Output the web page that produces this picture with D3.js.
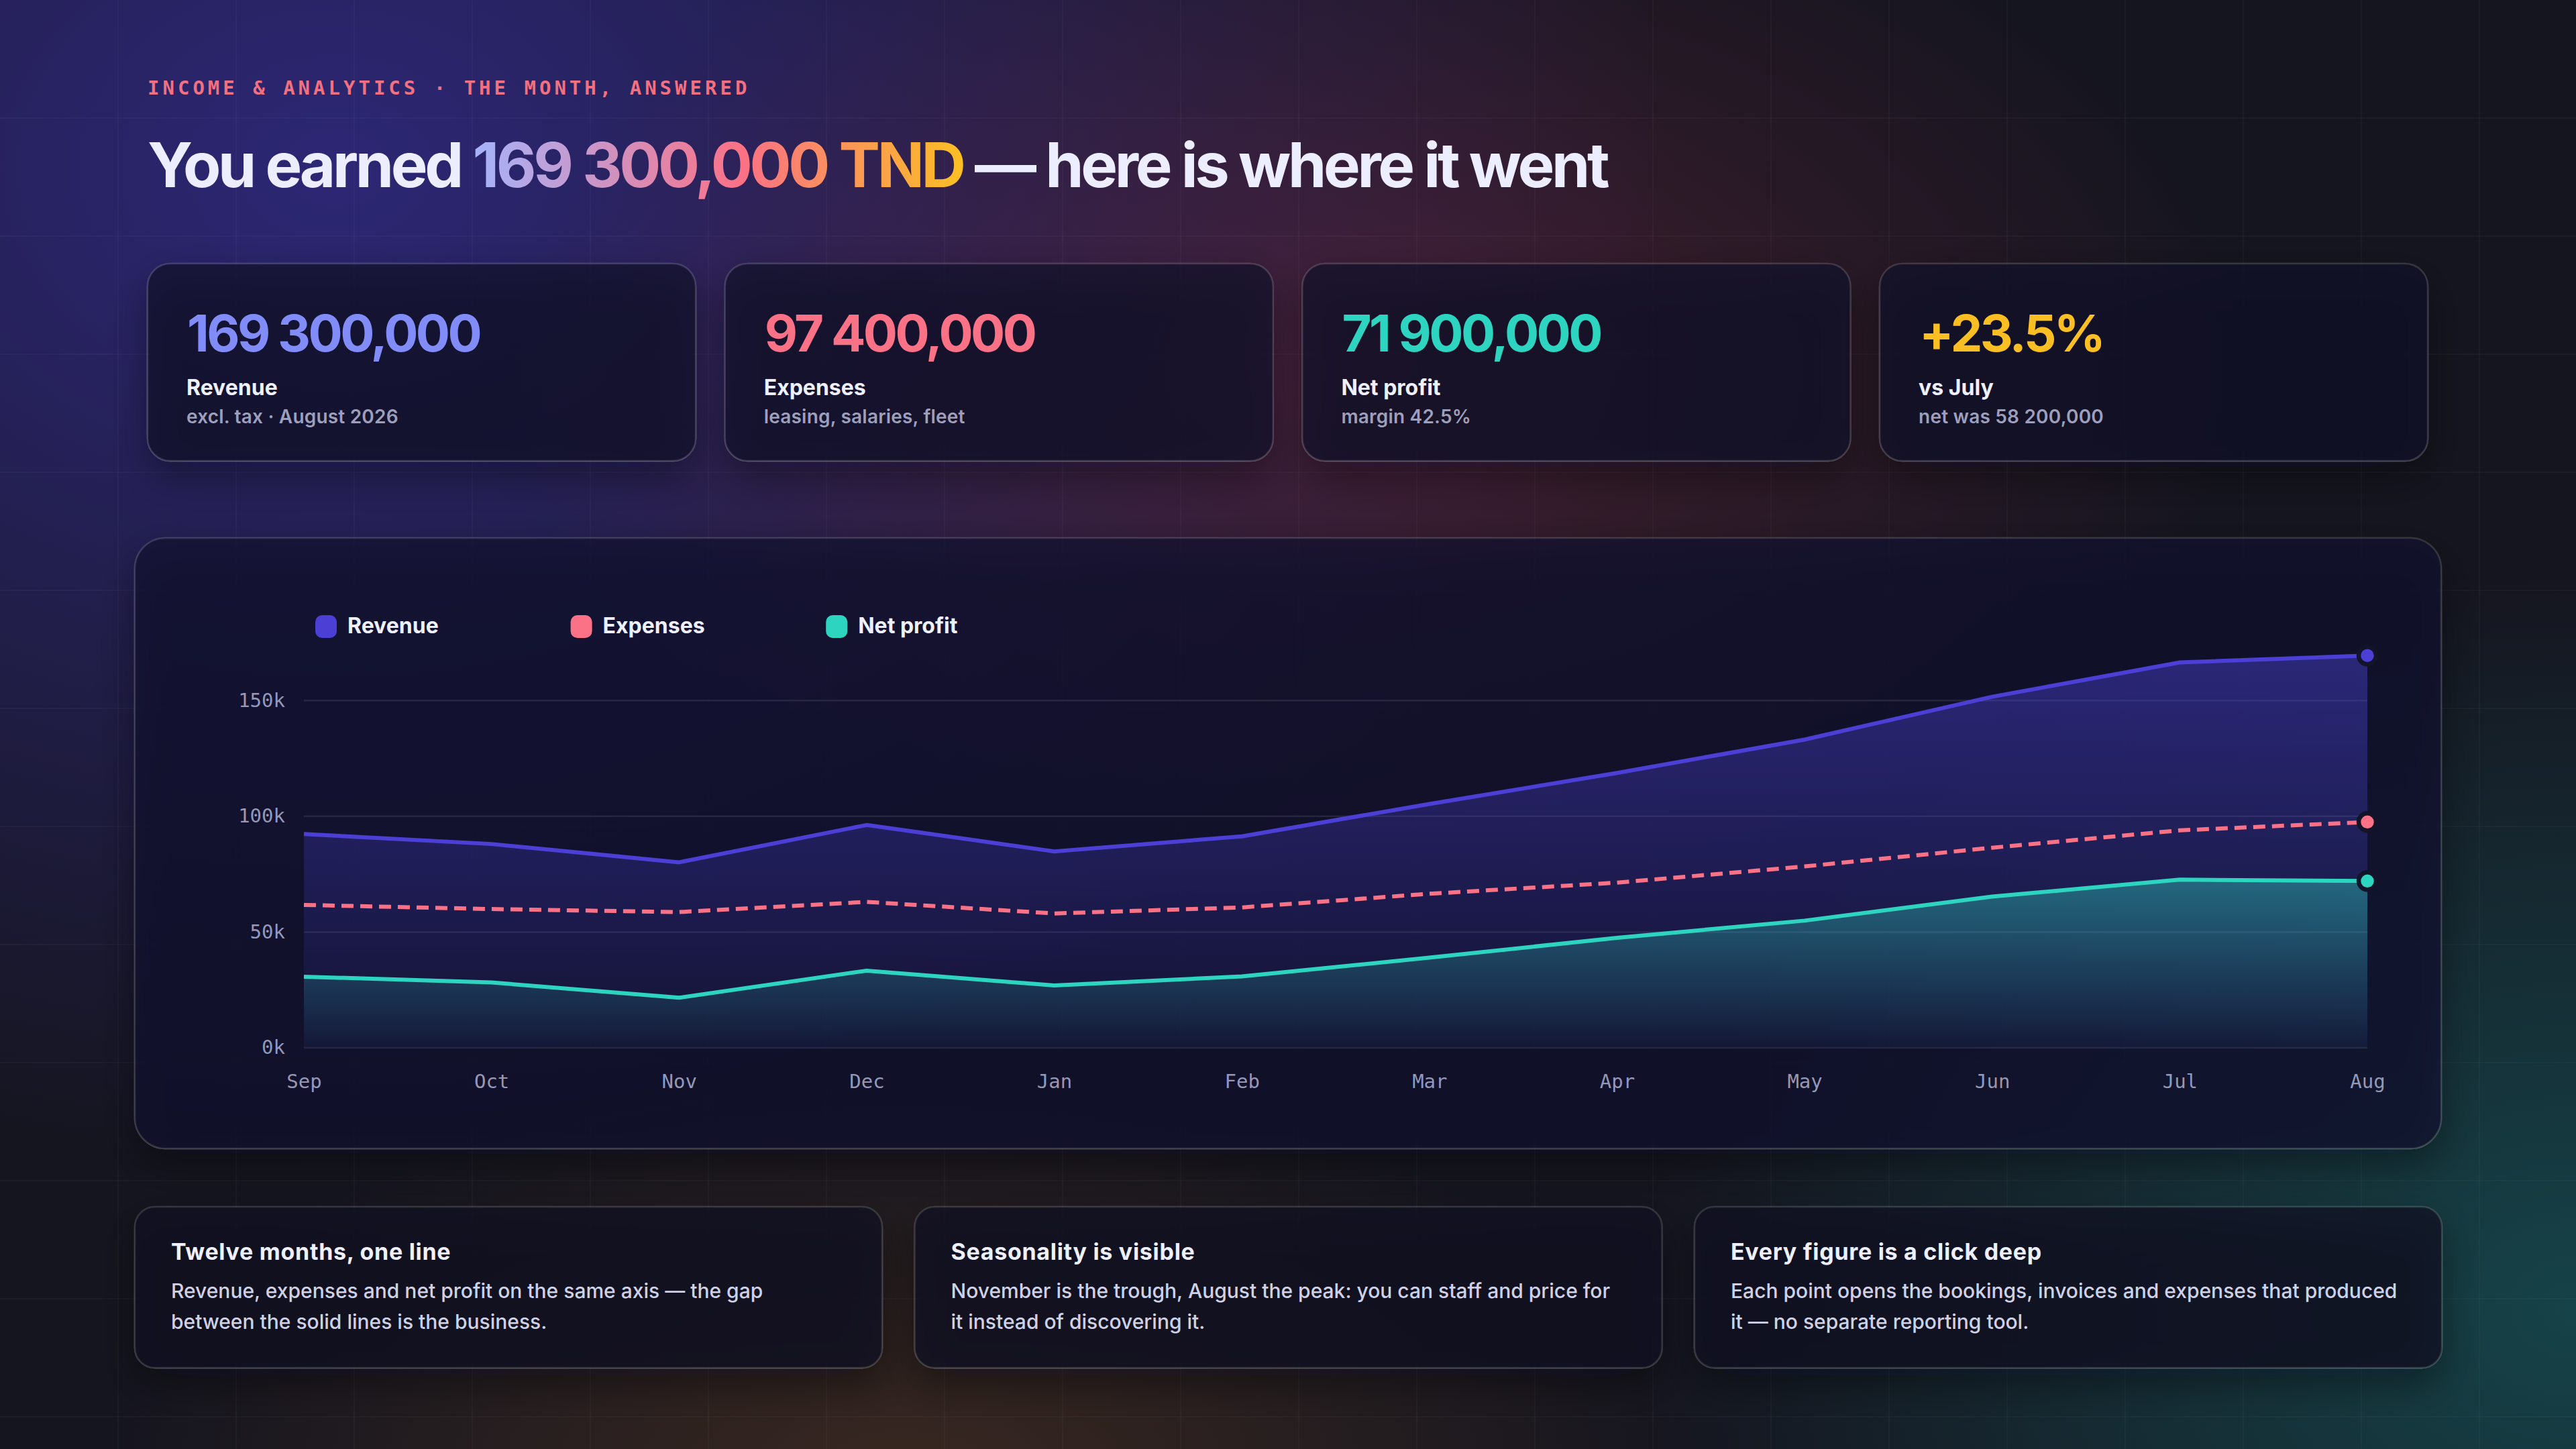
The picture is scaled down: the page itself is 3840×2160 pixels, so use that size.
<!DOCTYPE html>
<html>
<head>
<meta charset="utf-8">
<script src="https://cdn.jsdelivr.net/npm/d3@7"></script>
<style>
  html, body { margin: 0; padding: 0; background: #14141f; }
  svg { display: block; }
</style>
</head>
<body>
<svg id="c" width="3840" height="2160"></svg>
<script>
// ---------- DATA ----------
const months = ["Sep","Oct","Nov","Dec","Jan","Feb","Mar","Apr","May","Jun","Jul","Aug"];
// values in thousands of TND
const revenue   = [92.2, 87.9, 80.0, 96.1, 84.7, 91.2, 105.2, 118.6, 133.0, 151.5, 166.3, 169.3];
const expenses  = [61.6, 59.8, 58.5, 62.9, 57.9, 60.5, 66.4, 71.2, 78.2, 86.3, 93.8, 97.4];
const netProfit = [30.6, 28.1, 21.5, 33.2, 26.8, 30.7, 38.8, 47.4, 54.8, 65.2, 72.5, 71.9];
const yTicks = [0, 50, 100, 150];
const yTickLabels = ["0k", "50k", "100k", "150k"];

const seriesNames = ["Revenue", "Expenses", "Net profit"];
const seriesColors = ["#4b3fd6", "#fb7185", "#2dd4bf"];

const kpiValues = ["169 300,000", "97 400,000", "71 900,000", "+23.5%"];
const kpiLabels = ["Revenue", "Expenses", "Net profit", "vs July"];
const kpiSubs   = ["excl. tax · August 2026", "leasing, salaries, fleet", "margin 42.5%", "net was 58 200,000"];
const kpiColors = ["#818cf8", "#fb7185", "#2dd4bf", "#fbbf24"];

const noteTitles = ["Twelve months, one line", "Seasonality is visible", "Every figure is a click deep"];
const noteBodies = [
  ["Revenue, expenses and net profit on the same axis — the gap", "between the solid lines is the business."],
  ["November is the trough, August the peak: you can staff and price for", "it instead of discovering it."],
  ["Each point opens the bookings, invoices and expenses that produced", "it — no separate reporting tool."]
];

const eyebrow = "INCOME & ANALYTICS · THE MONTH, ANSWERED";
const titleParts = ["You earned ", "169 300,000 TND", " — here is where it went"];

// ---------- DRAW ----------
const SANS = "Inter, 'Noto Sans', sans-serif";
const MONO = "'DejaVu Sans Mono', 'Liberation Mono', monospace";
const svg = d3.select("#c");
const defs = svg.append("defs");

function radial(id, color, op) {
  const g = defs.append("radialGradient").attr("id", id);
  g.append("stop").attr("offset", 0).attr("stop-color", color).attr("stop-opacity", op);
  g.append("stop").attr("offset", 0.55).attr("stop-color", color).attr("stop-opacity", op * 0.45);
  g.append("stop").attr("offset", 1).attr("stop-color", color).attr("stop-opacity", 0);
}
radial("gIndigo", "#2d2775", 1);
radial("gRose", "#7a2a44", 0.45);
radial("gTeal", "#16686a", 0.55);
radial("gAmber", "#7a4a22", 0.35);

svg.append("rect").attr("width", 3840).attr("height", 2160).attr("fill", "#15151f");
svg.append("ellipse").attr("cx", 500).attr("cy", 250).attr("rx", 2000).attr("ry", 1500).attr("fill", "url(#gIndigo)");
svg.append("ellipse").attr("cx", 2050).attr("cy", 550).attr("rx", 1300).attr("ry", 800).attr("fill", "url(#gRose)");
svg.append("ellipse").attr("cx", 3840).attr("cy", 1950).attr("rx", 1400).attr("ry", 1100).attr("fill", "url(#gTeal)");
svg.append("ellipse").attr("cx", 1350).attr("cy", 2200).attr("rx", 1200).attr("ry", 600).attr("fill", "url(#gAmber)");

// faint background grid
const bgGrid = svg.append("g").attr("stroke", "rgba(255,255,255,0.028)").attr("stroke-width", 2);
d3.range(176, 3840, 176).forEach(x => bgGrid.append("line").attr("x1", x).attr("x2", x).attr("y1", 0).attr("y2", 2160));
d3.range(176, 2160, 176).forEach(y => bgGrid.append("line").attr("y1", y).attr("y2", y).attr("x1", 0).attr("x2", 3840));

// shadow filters
const sh = defs.append("filter").attr("id", "shadow").attr("x", "-20%").attr("y", "-20%").attr("width", "140%").attr("height", "160%");
sh.append("feDropShadow").attr("dx", 0).attr("dy", 24).attr("stdDeviation", 30).attr("flood-color", "#05050c").attr("flood-opacity", 0.55);

// eyebrow
svg.append("text").attr("x", 220).attr("y", 141)
  .attr("font-family", MONO).attr("font-size", 29).attr("font-weight", 600).attr("letter-spacing", 5)
  .attr("fill", "#f2707f").text(eyebrow);

// title
const titleG = svg.append("g");
const tSize = 92;
let tx = 220;
const tEls = titleParts.map((p, i) => {
  const t = titleG.append("text").attr("x", tx).attr("y", 279)
    .attr("font-family", SANS).attr("font-size", tSize).attr("font-weight", 700)
    .attr("letter-spacing", -4.3).attr("fill", "#eceeff")
    .style("white-space", "pre").attr("xml:space", "preserve").text(p);
  const w = t.node().getComputedTextLength();
  const el = { t, x: tx, w };
  tx += w;
  return el;
});
const tg = defs.append("linearGradient").attr("id", "titleGrad").attr("gradientUnits", "userSpaceOnUse")
  .attr("x1", tEls[1].x).attr("x2", tEls[1].x + tEls[1].w).attr("y1", 0).attr("y2", 0);
tg.append("stop").attr("offset", 0).attr("stop-color", "#a5b4fc");
tg.append("stop").attr("offset", 0.55).attr("stop-color", "#fb7185");
tg.append("stop").attr("offset", 1).attr("stop-color", "#fbbf24");
tEls[1].t.attr("fill", "url(#titleGrad)");

// KPI cards
const kpiX0 = 220, kpiW = 817, kpiGap = 43.7, kpiY = 393, kpiH = 294;
kpiValues.forEach((v, i) => {
  const gx = kpiX0 + i * (kpiW + kpiGap);
  const g = svg.append("g").attr("transform", `translate(${gx},${kpiY})`);
  g.append("rect").attr("width", kpiW).attr("height", kpiH).attr("rx", 34)
    .attr("fill", "rgba(20,20,42,0.7)").attr("stroke", "rgba(255,255,255,0.13)").attr("stroke-width", 2.5)
    .attr("filter", "url(#shadow)");
  g.append("text").attr("x", 59).attr("y", 131).attr("font-family", SANS).attr("font-size", 76)
    .attr("font-weight", 700).attr("letter-spacing", -3.6).attr("fill", kpiColors[i]).text(v);
  g.append("text").attr("x", 58).attr("y", 196).attr("font-family", SANS).attr("font-size", 32)
    .attr("font-weight", 700).attr("letter-spacing", 0).attr("fill", "#eef0ff").text(kpiLabels[i]);
  g.append("text").attr("x", 58).attr("y", 238).attr("font-family", SANS).attr("font-size", 28)
    .attr("font-weight", 600).attr("letter-spacing", 0.2).attr("fill", "#9d9fbb").text(kpiSubs[i]);
});

// chart card
svg.append("rect").attr("x", 201).attr("y", 802).attr("width", 3438).attr("height", 910).attr("rx", 46)
  .attr("fill", "rgba(22,22,44,0.7)").attr("stroke", "rgba(255,255,255,0.12)").attr("stroke-width", 2.5)
  .attr("filter", "url(#shadow)");

// legend
const legend = svg.append("g").attr("transform", "translate(470,917)");
seriesNames.forEach((n, i) => {
  const lg = legend.append("g").attr("transform", `translate(${i * 380.6},0)`);
  lg.append("rect").attr("width", 32).attr("height", 34).attr("rx", 10).attr("fill", seriesColors[i]);
  lg.append("text").attr("x", 48).attr("y", 27).attr("font-family", SANS).attr("font-size", 32)
    .attr("font-weight", 700).attr("letter-spacing", 0).attr("fill", "#eef0ff").text(n);
});

// scales
const x = d3.scalePoint().domain(months).range([453, 3529]);
const y = d3.scaleLinear().domain([0, 150]).range([1561.5, 1043.8]);

// gridlines + y axis
const yAxis = d3.axisLeft(y).tickValues(yTicks).tickFormat((d, i) => yTickLabels[i])
  .tickSizeInner(-(3529 - 453)).tickSizeOuter(0).tickPadding(28);
const ya = svg.append("g").attr("transform", "translate(453,0)").call(yAxis);
ya.select(".domain").remove();
ya.selectAll(".tick line").attr("stroke", "rgba(255,255,255,0.09)").attr("stroke-width", 2.5);
ya.selectAll(".tick text").attr("font-family", MONO).attr("font-size", 29).attr("fill", "#9598b6");

// x axis
const xAxis = d3.axisBottom(x).tickSize(0).tickPadding(40);
const xa = svg.append("g").attr("transform", `translate(0,${y(0)})`).call(xAxis);
xa.select(".domain").remove();
xa.selectAll(".tick text").attr("font-family", MONO).attr("font-size", 29).attr("fill", "#9598b6");

// area gradients
const rg = defs.append("linearGradient").attr("id", "revGrad").attr("gradientUnits", "userSpaceOnUse")
  .attr("x1", 0).attr("x2", 0).attr("y1", y(170)).attr("y2", y(0));
rg.append("stop").attr("offset", 0).attr("stop-color", "#4f46e5").attr("stop-opacity", 0.42);
rg.append("stop").attr("offset", 1).attr("stop-color", "#4f46e5").attr("stop-opacity", 0.05);
const ng = defs.append("linearGradient").attr("id", "netGrad").attr("gradientUnits", "userSpaceOnUse")
  .attr("x1", 0).attr("x2", 0).attr("y1", y(75)).attr("y2", y(0));
ng.append("stop").attr("offset", 0).attr("stop-color", "#2dd4bf").attr("stop-opacity", 0.42);
ng.append("stop").attr("offset", 1).attr("stop-color", "#2dd4bf").attr("stop-opacity", 0.02);

const area = d3.area().x((d, i) => x(months[i])).y0(y(0)).y1(d => y(d));
const line = d3.line().x((d, i) => x(months[i])).y(d => y(d));

svg.append("path").attr("d", area(revenue)).attr("fill", "url(#revGrad)");
svg.append("path").attr("d", area(netProfit)).attr("fill", "url(#netGrad)");

svg.append("path").attr("d", line(revenue)).attr("fill", "none").attr("stroke", seriesColors[0])
  .attr("stroke-width", 6).attr("stroke-linejoin", "round");
svg.append("path").attr("d", line(expenses)).attr("fill", "none").attr("stroke", seriesColors[1])
  .attr("stroke-width", 6).attr("stroke-dasharray", "18 10").attr("stroke-linejoin", "round");
svg.append("path").attr("d", line(netProfit)).attr("fill", "none").attr("stroke", seriesColors[2])
  .attr("stroke-width", 6).attr("stroke-linejoin", "round");

// end dots
const last = months.length - 1;
[revenue, expenses, netProfit].forEach((s, i) => {
  svg.append("circle").attr("cx", x(months[last])).attr("cy", y(s[last])).attr("r", 13)
    .attr("fill", seriesColors[i]).attr("stroke", "#13132a").attr("stroke-width", 6.5);
});

// note cards
const nX0 = 201, nW = 1114, nGap = 48.5, nY = 1799, nH = 240;
noteTitles.forEach((t, i) => {
  const gx = nX0 + i * (nW + nGap);
  const g = svg.append("g").attr("transform", `translate(${gx},${nY})`);
  g.append("rect").attr("width", nW).attr("height", nH).attr("rx", 30)
    .attr("fill", "rgba(20,20,34,0.74)").attr("stroke", "rgba(255,255,255,0.12)").attr("stroke-width", 2.5)
    .attr("filter", "url(#shadow)");
  g.append("text").attr("x", 54).attr("y", 79).attr("font-family", SANS).attr("font-size", 34)
    .attr("font-weight", 700).attr("letter-spacing", 0.7).attr("fill", "#eef0ff").text(t);
  noteBodies[i].forEach((ln, j) => {
    g.append("text").attr("x", 54).attr("y", 136 + j * 46).attr("font-family", SANS).attr("font-size", 30)
      .attr("font-weight", 500).attr("letter-spacing", 0).attr("fill", "#cfd1e6").text(ln);
  });
});
</script>
</body>
</html>
